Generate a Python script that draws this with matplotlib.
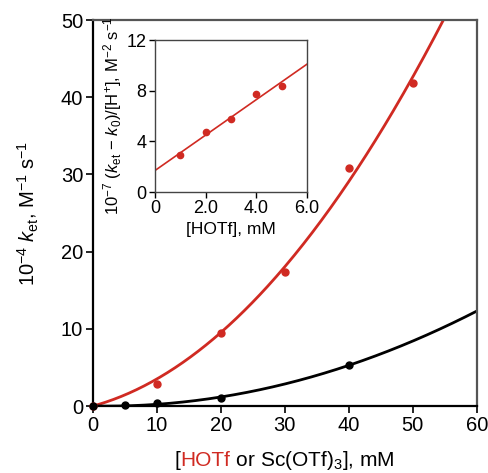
import numpy as np
import matplotlib
matplotlib.use("Agg")
import matplotlib.pyplot as plt
from matplotlib.offsetbox import TextArea, HPacker, AnnotationBbox

plt.rcParams['font.family'] = ['Liberation Sans', 'DejaVu Sans']
plt.rcParams['mathtext.fontset'] = 'custom'
plt.rcParams['mathtext.rm'] = 'Liberation Sans'
plt.rcParams['mathtext.it'] = 'Liberation Sans:italic'

RED = '#d02a22'

# k_et vs acid concentration (mM)
hotf_conc = [0, 10, 20, 30, 40, 50]
hotf_ket = [0, 2.8, 9.5, 17.4, 30.8, 41.8]
sc_conc = [0, 5, 10, 20, 40]
sc_ket = [0, 0.1, 0.4, 1.0, 5.3]

# inset: (k_et - k0)/[H+] vs [HOTf]
inset_conc = [1.0, 2.0, 3.0, 4.0, 5.0]
inset_val = [2.9, 4.7, 5.8, 7.7, 8.4]


def fit_origin(x, y):
    # least squares y = a*x + b*x^2 (curve goes through zero)
    x = np.asarray(x, float)
    A = np.column_stack([x, x ** 2])
    coef, *_ = np.linalg.lstsq(A, np.asarray(y, float), rcond=None)
    return lambda t: coef[0] * t + coef[1] * t ** 2


fig = plt.figure(figsize=(4.89, 4.73), dpi=100)
ax = fig.add_axes([0.190, 0.1416, 0.785, 0.8161])

xs = np.linspace(0, 60, 300)
ax.plot(xs, fit_origin(hotf_conc, hotf_ket)(xs), color=RED, lw=2.0)
ax.plot(xs, fit_origin(sc_conc, sc_ket)(xs), color='black', lw=2.0)
ax.plot(hotf_conc, hotf_ket, 'o', color=RED, ms=5, clip_on=False, zorder=5)
ax.plot(sc_conc, sc_ket, 'o', color='black', ms=5, clip_on=False, zorder=6)

ax.set_xlim(0, 60)
ax.set_ylim(0, 50)
ax.set_xticks(range(0, 61, 10))
ax.set_yticks(range(0, 51, 10))
ax.tick_params(labelsize=14.5, length=5, width=1.2, direction='out', pad=2)
for side in ['left', 'bottom']:
    ax.spines[side].set_linewidth(1.6)
for side in ['top', 'right']:
    ax.spines[side].set_linewidth(1.6)
    ax.spines[side].set_color('#555555')

ax.set_ylabel(r'10$^{-4}$ $k_{\rm et}$, M$^{-1}$ s$^{-1}$', fontsize=14.5, labelpad=14)

# two-colour x label
props = dict(fontsize=15)
parts = [TextArea('[', textprops=dict(color='black', **props)),
         TextArea('HOTf', textprops=dict(color=RED, **props)),
         TextArea(r' or Sc(OTf)$_3$], mM', textprops=dict(color='black', **props))]
box = HPacker(children=parts, align='baseline', pad=0, sep=0)
ab = AnnotationBbox(box, (0.5, -0.142), xycoords='axes fraction',
                    frameon=False, box_alignment=(0.5, 0.5), pad=0)
ax.add_artist(ab)

# inset
ins = fig.add_axes([0.317, 0.594, 0.311, 0.3214])
xi = np.linspace(0, 6, 50)
lin = np.polyfit(inset_conc, inset_val, 1)
ins.plot(xi, np.polyval(lin, xi), color=RED, lw=1.2)
ins.plot(inset_conc, inset_val, 'o', color=RED, ms=4.5)
ins.set_xlim(0, 6)
ins.set_ylim(0, 12)
ins.set_xticks([0, 2, 4, 6])
ins.set_xticklabels(['0', '2.0', '4.0', '6.0'])
ins.set_yticks([0, 4, 8, 12])
ins.tick_params(labelsize=13, length=4, width=1.0, pad=2)
for s in ins.spines.values():
    s.set_linewidth(1.0)
    s.set_color('#444444')
ins.set_xlabel('[HOTf], mM', fontsize=12.5, labelpad=3)
ins.set_ylabel(r'10$^{-7}$ ($k_{\rm et}$ $-$ $k_0$)/[H$^{+}$], M$^{-2}$ s$^{-1}$',
               fontsize=12, labelpad=2)

fig.savefig('out.png', dpi=100)
